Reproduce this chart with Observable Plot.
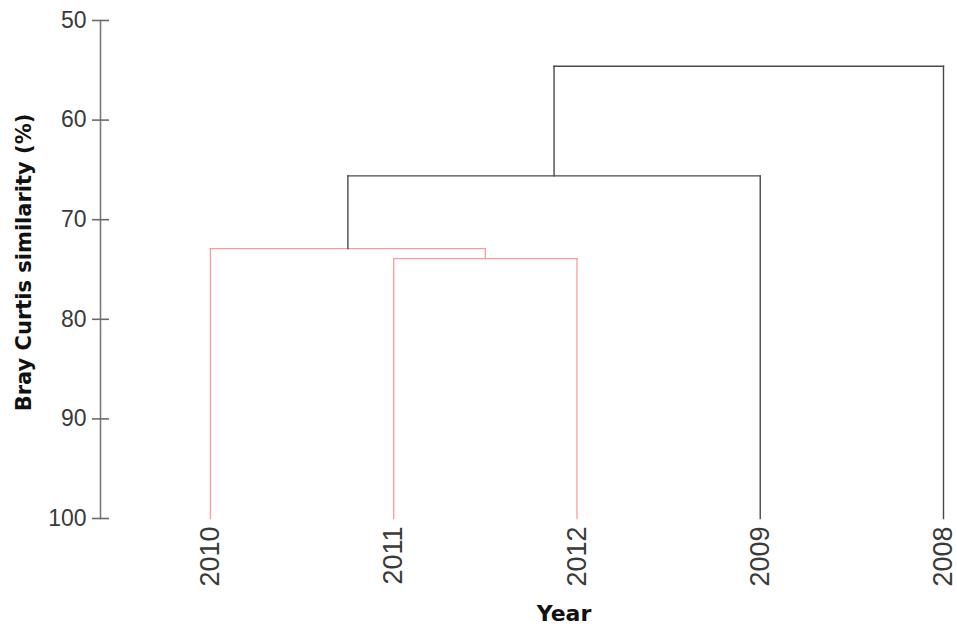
<!DOCTYPE html>
<html>
<head>
<meta charset="utf-8">
<script src="https://cdn.jsdelivr.net/npm/d3@7"></script>
<script src="https://cdn.jsdelivr.net/npm/@observablehq/plot@0.6"></script>
<style>
  html, body { margin: 0; padding: 0; background: #fff; }
  #chart svg { display: block; }
</style>
</head>
<body>
<div id="chart"></div>
<script>
// Leaves of the dendrogram, left to right
const leaves = ["2010", "2011", "2012", "2009", "2008"];

// Agglomeration steps: cluster "C<k>" is formed by step k (1-based)
const mergeA = ["2011", "2010", "C2", "C3"];
const mergeB = ["2012", "C1", "2009", "2008"];
const mergeSimilarity = [73.9, 72.9, 65.6, 54.6];

// Similarity axis ticks
const yTicks = [50, 60, 70, 80, 90, 100];

// Groups joined above this similarity are highlighted
const cutSimilarity = 70;

// Lay out nodes: leaves sit at 100 % similarity, clusters centred over children
const node = new Map(leaves.map((name, i) => [name, {x: i, y: 100}]));
const segments = [];
mergeA.forEach((a, k) => {
  const b = mergeB[k];
  const s = mergeSimilarity[k];
  const na = node.get(a), nb = node.get(b);
  const group = s >= cutSimilarity ? "close" : "far";
  segments.push({x1: na.x, y1: na.y, x2: na.x, y2: s, group});
  segments.push({x1: nb.x, y1: nb.y, x2: nb.x, y2: s, group});
  segments.push({x1: na.x, y1: s, x2: nb.x, y2: s, group});
  node.set(`C${k + 1}`, {x: (na.x + nb.x) / 2, y: s});
});

const boldFont = "'DejaVu Sans', Verdana, sans-serif";

const chart = Plot.plot({
  width: 957,
  height: 632,
  marginLeft: 100,
  marginRight: 14,
  marginTop: 20,
  marginBottom: 114,
  style: {fontFamily: "'Liberation Sans', Arial, sans-serif", background: "#fff", color: "#404040"},
  x: {domain: [-0.6, leaves.length - 1], axis: null},
  y: {domain: [50, 100], reverse: true, axis: null},
  color: {domain: ["close", "far"], range: ["#ff9a9a", "#4a4a4a"]},
  marks: [
    // y axis line
    Plot.frame({anchor: "left", stroke: "#7a7a7a", strokeWidth: 1.6}),
    // tick marks crossing the axis line
    Plot.axisY({anchor: "left", ticks: yTicks, tickSize: 17, dx: 9, tickFormat: () => "", label: null, stroke: "#6a6a6a", strokeWidth: 1.6}),
    // tick labels
    Plot.axisY({anchor: "left", ticks: yTicks, tickSize: 0, tickPadding: 14, fontSize: 23, label: null, fill: "#3a3a3a"}),
    // leaf labels
    Plot.axisX({
      anchor: "bottom",
      ticks: d3.range(leaves.length),
      tickFormat: i => leaves[i],
      tickSize: 0,
      tickPadding: 8,
      tickRotate: -90,
      fontSize: 27,
      label: null,
      fill: "#3a3a3a"
    }),
    // dendrogram branches
    Plot.link(segments, {
      x1: "x1", y1: "y1", x2: "x2", y2: "y2",
      stroke: "group",
      strokeWidth: d => d.group === "close" ? 1.3 : 1.4,
      strokeLinecap: "square"
    }),
    // axis titles
    Plot.text(["Year"], {
      frameAnchor: "bottom",
      textAnchor: "middle",
      dx: 42, dy: 102,
      fontSize: 22, fontWeight: "bold", fontFamily: boldFont, fill: "#111"
    }),
    Plot.text(["Bray Curtis similarity (%)"], {
      frameAnchor: "left",
      textAnchor: "middle",
      rotate: -90,
      dx: -76, dy: -7,
      fontSize: 21, fontWeight: "bold", fontFamily: boldFont, fill: "#111"
    })
  ]
});

document.getElementById("chart").appendChild(chart);
</script>
</body>
</html>
